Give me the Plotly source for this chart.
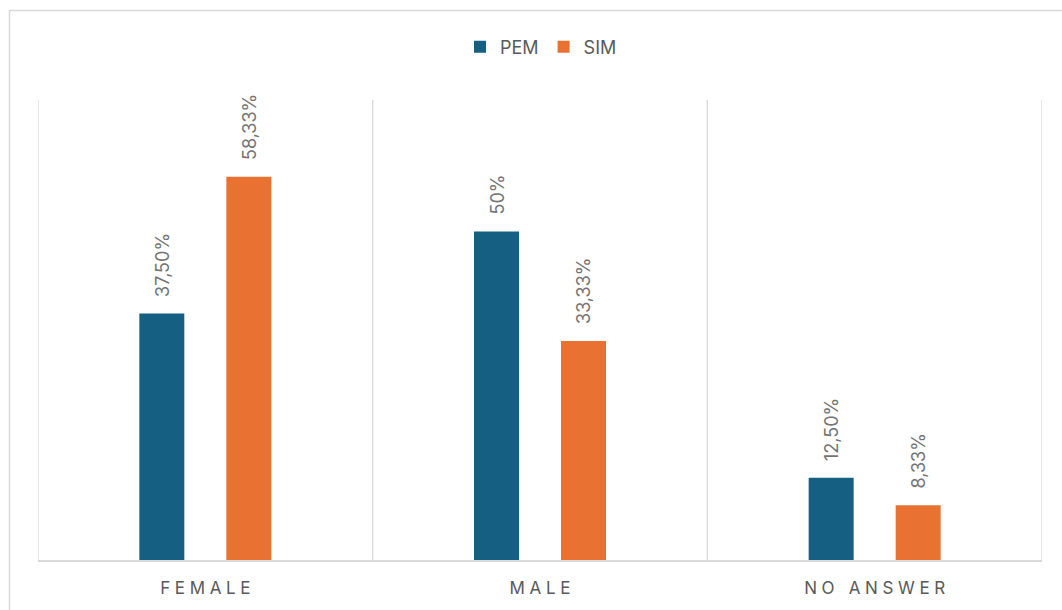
import plotly.graph_objects as go

# Survey answers by gender, share of respondents (%)
categories = ["FEMALE", "MALE", "NO ANSWER"]
pem_values = [37.50, 50.00, 12.50]
sim_values = [58.33, 33.33, 8.33]
pem_labels = ["37,50%", "50%", "12,50%"]
sim_labels = ["58,33%", "33,33%", "8,33%"]
series_names = ["PEM", "SIM"]

PEM_COLOR = "#156082"
SIM_COLOR = "#E97132"
TEXT_COLOR = "#595959"
LABEL_COLOR = "#737373"
LINE_COLOR = "#D9D9D9"
FONT = "Inter, 'Open Sans', sans-serif"

W, H = 1062, 610
M_L, M_R, M_T, M_B = 38, 20, 100, 50
plot_w = W - M_L - M_R
plot_h = H - M_T - M_B
Y_MAX = 70
BARGAP = 0.48
slot_px = plot_w / len(categories) * (1 - BARGAP) / 2

fig = go.Figure()
fig.add_trace(go.Bar(name=series_names[0], x=categories, y=pem_values,
                     marker=dict(color=PEM_COLOR, line=dict(width=0))))
fig.add_trace(go.Bar(name=series_names[1], x=categories, y=sim_values,
                     marker=dict(color=SIM_COLOR, line=dict(width=0))))

# Rotated value labels above each bar
for vals, labels, shift in ((pem_values, pem_labels, -slot_px / 2),
                            (sim_values, sim_labels, slot_px / 2)):
    for cat, v, lab in zip(categories, vals, labels):
        fig.add_annotation(x=cat, y=v, xref="x", yref="y", text=lab,
                           showarrow=False, textangle=-90,
                           xanchor="center", yanchor="bottom",
                           xshift=shift + 0.5, yshift=15,
                           font=dict(family=FONT, size=18, color=LABEL_COLOR))

# Vertical separators between categories
for i in range(len(categories) + 1):
    fig.add_shape(type="line", xref="x", yref="y",
                  x0=i - 0.5, x1=i - 0.5, y0=0, y1=Y_MAX,
                  line=dict(color=LINE_COLOR, width=1.3), layer="below")

# Chart frame
fig.add_shape(type="rect", xref="paper", yref="paper",
              x0=(9.5 - M_L) / plot_w, x1=(W + 5 - M_L) / plot_w,
              y0=-(M_B + 5) / plot_h, y1=1 + (M_T - 10.5) / plot_h,
              line=dict(color=LINE_COLOR, width=1.5), fillcolor="rgba(0,0,0,0)",
              layer="below")

spaced = ["\u2009\u200a".join(c) for c in categories]

fig.update_layout(
    width=W, height=H,
    margin=dict(l=M_L, r=M_R, t=M_T, b=M_B),
    paper_bgcolor="white", plot_bgcolor="white",
    barmode="group", bargap=BARGAP, bargroupgap=0.483,
    showlegend=True,
    legend=dict(orientation="h", x=0.501, xanchor="center",
                y=1 + 53 / plot_h, yanchor="middle",
                font=dict(family=FONT, size=18, color=TEXT_COLOR),
                itemwidth=30, tracegroupgap=0),
    font=dict(family=FONT, color=TEXT_COLOR),
    xaxis=dict(type="category", range=[-0.5, len(categories) - 0.5],
               tickvals=categories, ticktext=spaced,
               showgrid=False, showline=True, linecolor=LINE_COLOR, linewidth=1.5,
               ticks="", ticklabelstandoff=12,
               tickfont=dict(family=FONT, size=17, color=TEXT_COLOR)),
    yaxis=dict(range=[0, Y_MAX], showgrid=False, zeroline=False,
               showticklabels=False, ticks="", showline=False),
)

fig.write_html("out.html")
